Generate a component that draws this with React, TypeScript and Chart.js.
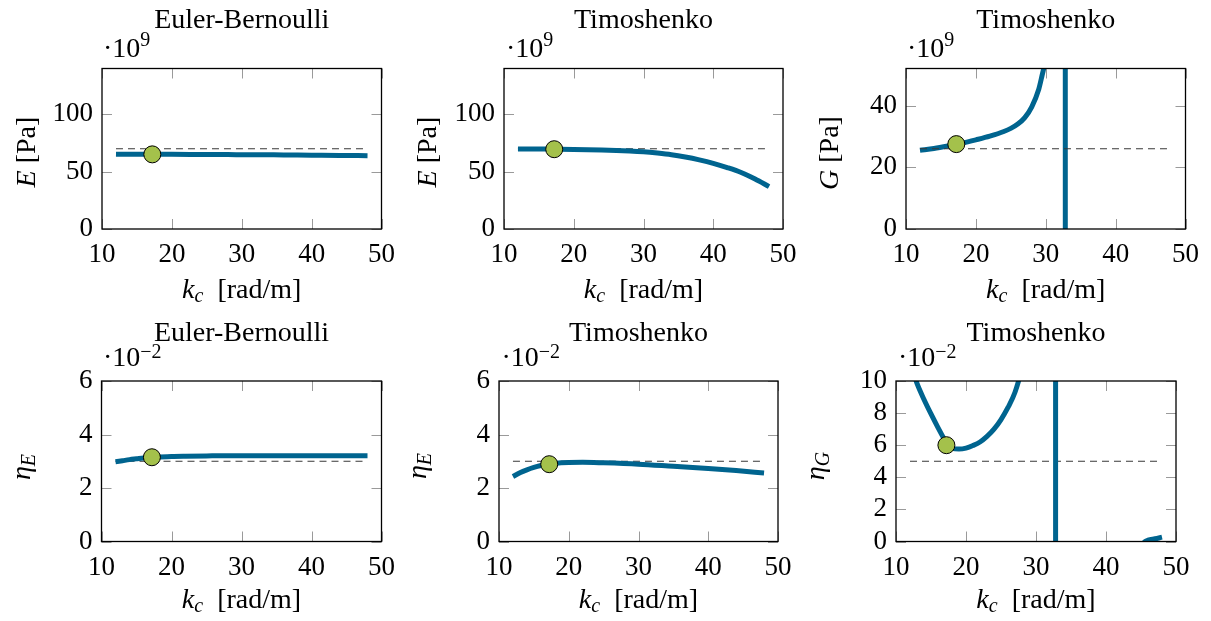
import React, { useEffect, useRef } from "react";
import { Chart, registerables } from "chart.js";

Chart.register(...registerables);

const W = 1211;
const H = 621;

// ---------------- data ----------------
const xTicks = [10, 20, 30, 40, 50];
const yTicksE = [0, 50, 100];
const yTicksG = [0, 20, 40];
const yTicksEta = [0, 2, 4, 6];
const yTicksEtaG = [0, 2, 4, 6, 8, 10];

// E, Euler-Bernoulli (·10^9 Pa)
const kEulerE = [12, 14, 16, 18, 20, 24, 28, 32, 36, 40, 44, 48];
const eulerE = [65.3, 65.2, 65.2, 65.1, 65.1, 65.0, 64.9, 64.8, 64.6, 64.4, 64.2, 63.9];
const refEulerE = 70;
const markEulerE = 65.1;

// E, Timoshenko (·10^9 Pa)
const kTimoE = [12, 16, 20, 24, 28, 30, 32, 34, 36, 38, 40, 42, 44, 46, 48];
const timoE = [69.8, 69.7, 69.4, 68.9, 68.0, 67.3, 66.2, 64.8, 62.8, 60.3, 57.3, 53.6, 49.3, 43.6, 37.0];
const refTimoE = 70;
const markTimoE = 69.6;

// G, Timoshenko (·10^9 Pa)
const kTimoG = [12, 14, 16, 18, 20, 22, 24, 25, 26, 27, 28, 29, 29.5, 30, 31, 32, 32.7, 32.9, 34, 38, 42, 48];
const timoG = [25.5, 26.1, 26.9, 27.8, 28.9, 30.1, 31.6, 32.6, 34.0, 36.1, 39.6, 45.3, 50, 55, 68, 130, 1500, -1500, -150, -50, -35, -25];
const refTimoG = 26;
const markTimoG = 27.5;

// eta_E, Euler-Bernoulli (·10^-2)
const kEulerEta = [12, 13, 14, 15, 16, 17, 18, 20, 22, 25, 30, 35, 40, 48];
const eulerEta = [2.98, 3.02, 3.06, 3.09, 3.12, 3.14, 3.16, 3.18, 3.19, 3.2, 3.21, 3.21, 3.21, 3.21];
const refEulerEta = 3;
const markEulerEta = 3.15;

// eta_E, Timoshenko (·10^-2)
const kTimoEta = [12, 13, 14, 15, 16, 17, 18, 20, 22, 25, 30, 35, 40, 44, 48];
const timoEta = [2.43, 2.57, 2.68, 2.77, 2.84, 2.89, 2.92, 2.95, 2.96, 2.94, 2.89, 2.81, 2.73, 2.65, 2.56];
const refTimoEta = 3;
const markTimoEta = 2.89;

// eta_G, Timoshenko (·10^-2)
const kTimoEtaG = [12, 12.5, 13, 14, 15, 16, 17, 17.5, 18, 19, 20, 21, 22, 23, 24, 25, 26, 27, 28, 29, 30, 31, 32, 32.7, 32.9, 34, 38, 42, 44, 45, 45.6, 46, 47, 48];
const timoEtaG = [11.2, 10.5, 9.85, 8.85, 7.95, 7.1, 6.3, 5.95, 5.8, 5.76, 5.82, 5.98, 6.2, 6.55, 7.0, 7.6, 8.35, 9.3, 10.8, 12.8, 15.5, 20, 40, 1500, -1500, -40, -10, -3, -1, -0.3, 0, 0.08, 0.17, 0.27];
const refTimoEtaG = 5;
const markTimoEtaG = 6.0;

const markK = 17.2;
const refK = [12, 48];

// ---------------- styles / layout ----------------
const BLUE = "#00648f";
const GREEN = "#a4c14b";
const DASH = "#383838";
const FAMILY = '"Liberation Serif", "Times New Roman", serif';
const TEXT = 28;
const SUB = 20;
const TICK = 27;

type Run = { t: string; size: number; italic?: boolean; dy?: number };

const xLabelRuns: Run[] = [
  { t: "k", size: TEXT, italic: true },
  { t: "c", size: SUB, italic: true, dy: 4 },
  { t: "  [rad/m]", size: TEXT },
];
const eLabel: Run[] = [{ t: "E", size: TEXT, italic: true }, { t: " [Pa]", size: TEXT }];
const gLabel: Run[] = [{ t: "G", size: TEXT, italic: true }, { t: " [Pa]", size: TEXT }];
const etaELabel: Run[] = [{ t: "η", size: TEXT, italic: true }, { t: "E", size: SUB, italic: true, dy: 5 }];
const etaGLabel: Run[] = [{ t: "η", size: TEXT, italic: true }, { t: "G", size: SUB, italic: true, dy: 5 }];

type PanelCfg = {
  rect: [number, number, number, number];
  k: number[];
  v: number[];
  ref: number;
  mark: number;
  yMax: number;
  yTicks: number[];
  title: string;
  titleY: number;
  exp: string;
  expX: number;
  expY: number;
  supDy: number;
  xlabY: number;
  ylab: Run[];
  ylabX: number;
  ylabY: number;
  dashOnTop: boolean;
};

const PANELS: PanelCfg[] = [
  { rect: [102, 68.5, 381.5, 229], k: kEulerE, v: eulerE, ref: refEulerE, mark: markEulerE, yMax: 140, yTicks: yTicksE,
    title: "Euler-Bernoulli", titleY: 27.5, exp: "9", expX: 103, expY: 57, supDy: -11.5, xlabY: 298, ylab: eLabel, ylabX: 35, ylabY: 152, dashOnTop: false },
  { rect: [504, 68.5, 783, 229], k: kTimoE, v: timoE, ref: refTimoE, mark: markTimoE, yMax: 140, yTicks: yTicksE,
    title: "Timoshenko", titleY: 27.5, exp: "9", expX: 506, expY: 57, supDy: -11.5, xlabY: 298, ylab: eLabel, ylabX: 436, ylabY: 152, dashOnTop: false },
  { rect: [906, 68.5, 1185.5, 229], k: kTimoG, v: timoG, ref: refTimoG, mark: markTimoG, yMax: 52, yTicks: yTicksG,
    title: "Timoshenko", titleY: 27.5, exp: "9", expX: 907, expY: 57, supDy: -11.5, xlabY: 298, ylab: gLabel, ylabX: 838, ylabY: 153, dashOnTop: true },
  { rect: [101.5, 381, 381.5, 541.5], k: kEulerEta, v: eulerEta, ref: refEulerEta, mark: markEulerEta, yMax: 6, yTicks: yTicksEta,
    title: "Euler-Bernoulli", titleY: 341, exp: "−2", expX: 103, expY: 366, supDy: -8.5, xlabY: 608, ylab: etaELabel, ylabX: 30, ylabY: 467, dashOnTop: false },
  { rect: [499, 381, 778, 541.5], k: kTimoEta, v: timoEta, ref: refTimoEta, mark: markTimoEta, yMax: 6, yTicks: yTicksEta,
    title: "Timoshenko", titleY: 341, exp: "−2", expX: 501.5, expY: 366, supDy: -8.5, xlabY: 608, ylab: etaELabel, ylabX: 426, ylabY: 466, dashOnTop: false },
  { rect: [896, 381, 1176, 541.5], k: kTimoEtaG, v: timoEtaG, ref: refTimoEtaG, mark: markTimoEtaG, yMax: 10, yTicks: yTicksEtaG,
    title: "Timoshenko", titleY: 341, exp: "−2", expX: 898, expY: 366, supDy: -8.5, xlabY: 608, ylab: etaGLabel, ylabX: 824, ylabY: 466, dashOnTop: false },
];

function fontOf(r: Run) {
  return `${r.italic ? "italic " : ""}${r.size}px ${FAMILY}`;
}

function drawRuns(ctx: CanvasRenderingContext2D, runs: Run[], x: number, y: number, align: "left" | "center") {
  const widths = runs.map((r) => {
    ctx.font = fontOf(r);
    return ctx.measureText(r.t).width;
  });
  const total = widths.reduce((a, b) => a + b, 0);
  let cx = align === "center" ? x - total / 2 : x;
  runs.forEach((r, i) => {
    ctx.font = fontOf(r);
    ctx.fillText(r.t, cx, y + (r.dy || 0));
    cx += widths[i];
  });
}

function decor(p: PanelCfg) {
  return {
    id: "decor",
    beforeDatasetsDraw(chart: any) {
      const ctx: CanvasRenderingContext2D = chart.ctx;
      const a = chart.chartArea;
      const xs = chart.scales.x;
      const ys = chart.scales.y;
      const TL = 10;
      ctx.save();
      ctx.strokeStyle = "#9a9a9a";
      ctx.lineWidth = 1;
      ctx.beginPath();
      xTicks.forEach((v) => {
        const px = Math.round(xs.getPixelForValue(v)) + 0.5;
        ctx.moveTo(px, a.bottom);
        ctx.lineTo(px, a.bottom - TL);
        ctx.moveTo(px, a.top);
        ctx.lineTo(px, a.top + TL);
      });
      p.yTicks.forEach((v) => {
        const py = Math.round(ys.getPixelForValue(v)) + 0.5;
        ctx.moveTo(a.left, py);
        ctx.lineTo(a.left + TL, py);
        ctx.moveTo(a.right, py);
        ctx.lineTo(a.right - TL, py);
      });
      ctx.stroke();
      ctx.restore();
    },
    afterDraw(chart: any) {
      const ctx: CanvasRenderingContext2D = chart.ctx;
      const a = chart.chartArea;
      ctx.save();
      ctx.strokeStyle = "#000";
      ctx.lineWidth = 1.3;
      ctx.strokeRect(a.left, a.top, a.right - a.left, a.bottom - a.top);
      ctx.fillStyle = "#000";
      ctx.textBaseline = "alphabetic";
      ctx.textAlign = "left";
      const cx = (a.left + a.right) / 2;
      drawRuns(ctx, [{ t: p.title, size: TEXT }], cx, p.titleY, "center");
      drawRuns(ctx, [{ t: "·10", size: TEXT }, { t: p.exp, size: SUB, dy: p.supDy }], p.expX, p.expY, "left");
      drawRuns(ctx, xLabelRuns, cx, p.xlabY, "center");
      ctx.translate(p.ylabX, p.ylabY);
      ctx.rotate(-Math.PI / 2);
      drawRuns(ctx, p.ylab, 0, 0, "center");
      ctx.restore();
    },
  };
}

function Panel({ p }: { p: PanelCfg }) {
  const ref = useRef<HTMLCanvasElement>(null);
  useEffect(() => {
    const [L, T, R, B] = p.rect;
    const curve = p.k.map((k, i) => ({ x: k, y: p.v[i] }));
    const dash = refK.map((k) => ({ x: k, y: p.ref }));
    const chart = new Chart(ref.current as HTMLCanvasElement, {
      type: "line",
      data: {
        datasets: [
          {
            data: [{ x: markK, y: p.mark }],
            showLine: false,
            pointRadius: 8.5,
            pointBackgroundColor: GREEN,
            pointBorderColor: "#000",
            pointBorderWidth: 1,
            order: 0,
            clip: false,
          } as any,
          {
            data: curve,
            borderColor: BLUE,
            borderWidth: 5,
            pointRadius: 0,
            cubicInterpolationMode: "monotone",
            clip: 0,
            order: p.dashOnTop ? 2 : 1,
          },
          {
            data: dash,
            borderColor: DASH,
            borderWidth: 1.1,
            borderDash: [7, 5],
            pointRadius: 0,
            clip: 0,
            order: p.dashOnTop ? 1 : 2,
          },
        ],
      },
      options: {
        responsive: false,
        animation: false,
        events: [],
        layout: { padding: { left: 0, top: T, right: W - R, bottom: 0 } },
        plugins: { legend: { display: false }, tooltip: { enabled: false }, title: { display: false } },
        scales: {
          x: {
            type: "linear",
            min: 10,
            max: 50,
            grid: { display: false, drawTicks: false },
            border: { display: false },
            afterBuildTicks: (s: any) => {
              s.ticks = xTicks.map((v) => ({ value: v }));
            },
            afterFit: (s: any) => {
              s.height = H - B;
            },
            ticks: {
              color: "#000",
              font: { family: FAMILY, size: TICK },
              padding: 10,
              maxRotation: 0,
              autoSkip: false,
              callback: (v: any) => String(v),
            },
          },
          y: {
            type: "linear",
            min: 0,
            max: p.yMax,
            grid: { display: false, drawTicks: false },
            border: { display: false },
            afterBuildTicks: (s: any) => {
              s.ticks = p.yTicks.map((v) => ({ value: v }));
            },
            afterFit: (s: any) => {
              s.width = L;
            },
            ticks: {
              color: "#000",
              font: { family: FAMILY, size: TICK },
              padding: 9,
              autoSkip: false,
              callback: (v: any) => String(v),
            },
          },
        },
      } as any,
      plugins: [decor(p)],
    });
    return () => chart.destroy();
  }, [p]);
  return (
    <canvas
      ref={ref}
      width={W}
      height={H}
      style={{ position: "absolute", left: 0, top: 0, width: W, height: H }}
    />
  );
}

export default function App() {
  return (
    <div style={{ position: "absolute", left: 0, top: 0, width: W, height: H, background: "#fff" }}>
      {PANELS.map((p, i) => (
        <Panel key={i} p={p} />
      ))}
    </div>
  );
}
